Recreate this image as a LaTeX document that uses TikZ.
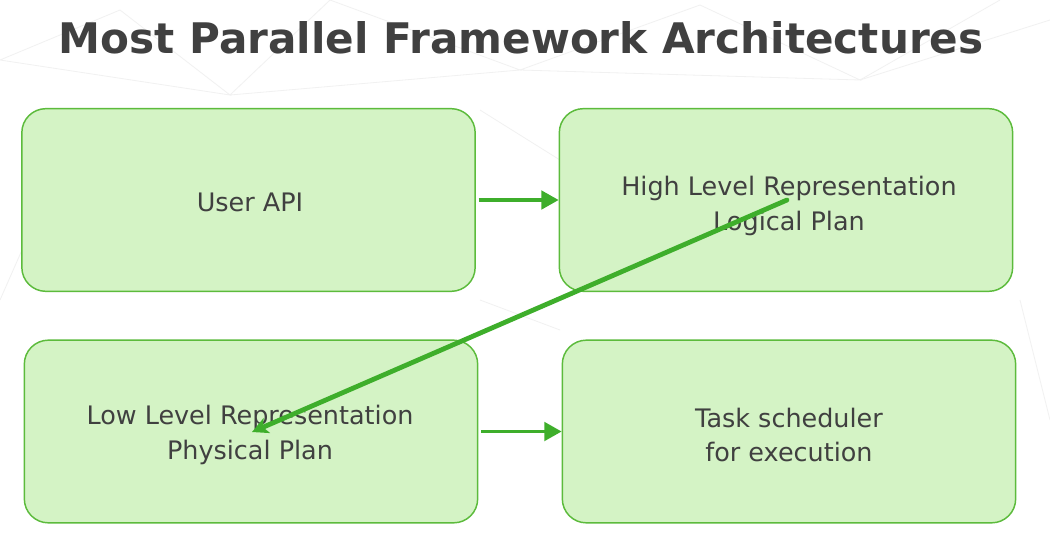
\documentclass[tikz,border=0pt]{standalone}
\usepackage{fontspec}
\setmainfont{DejaVu Sans}
\usetikzlibrary{arrows.meta}
\definecolor{boxfill}{HTML}{D4F3C5}
\definecolor{boxline}{HTML}{5CBB3C}
\definecolor{arrowc}{HTML}{3EAE2B}
\definecolor{txt}{HTML}{404040}
\definecolor{mesh}{HTML}{F1F1F1}
\tikzset{
  box/.style={draw=boxline, line width=1.1pt, fill=boxfill, rounded corners=18pt,
    minimum width=340pt, minimum height=137pt, inner sep=0pt},
  lbl/.style={align=center, text=txt, font=\fontsize{19.1}{25.8}\selectfont, inner sep=0pt},
  flow/.style={draw=arrowc, line width=2.3pt, -{Triangle[length=13pt,width=14pt]}},
  jump/.style={draw=arrowc, line width=3.6pt, line cap=round, -{Stealth[length=12pt,width=12pt,inset=3pt]}},
}
\begin{document}
\begin{tikzpicture}[x=0.75pt,y=-0.75pt]
\useasboundingbox (0,0) rectangle (1050,544);
\fill[white] (0,0) rectangle (1050,544);
% faint background mesh
\begin{scope}[draw=mesh, line width=0.6pt]
\draw (0,60) -- (120,10) -- (230,95) -- (0,60);
\draw (230,95) -- (330,0) -- (520,70) -- (230,95);
\draw (520,70) -- (700,5) -- (860,80) -- (520,70);
\draw (860,80) -- (1050,20);
\draw (860,80) -- (1000,0);
\draw (1020,300) -- (1050,420);
\draw (480,300) -- (560,330);
\draw (0,300) -- (22,250);
\draw (480,110) -- (560,160);
\end{scope}
\node[text=txt, font=\bfseries\fontsize{31.6}{36}\selectfont, anchor=base] (title) at (521,53) {Most Parallel Framework Architectures};
\node[box] (api) at (248.5,200) {};
\node[box] (high) at (786,200) {};
\node[box] (low) at (251,431.5) {};
\node[box] (task) at (789,431.5) {};
\node[lbl] (apiT) at (250,202) {User API};
\node[lbl] (highT) at (789,206) {High Level Representation\\Logical Plan};
\node[lbl] (lowT) at (250,435) {Low Level Representation\\Physical Plan};
\node[lbl] (taskT) at (789,435) {Task scheduler\\ for execution};
\coordinate (hstart) at (787,200);
\coordinate (lend) at (252,432);
\draw[flow] (api.east) ++(2pt,0) -- (high.west);
\draw[flow] (low.east) ++(2pt,0) -- (task.west);
\draw[jump] (hstart) -- (lend);
\end{tikzpicture}
\end{document}
